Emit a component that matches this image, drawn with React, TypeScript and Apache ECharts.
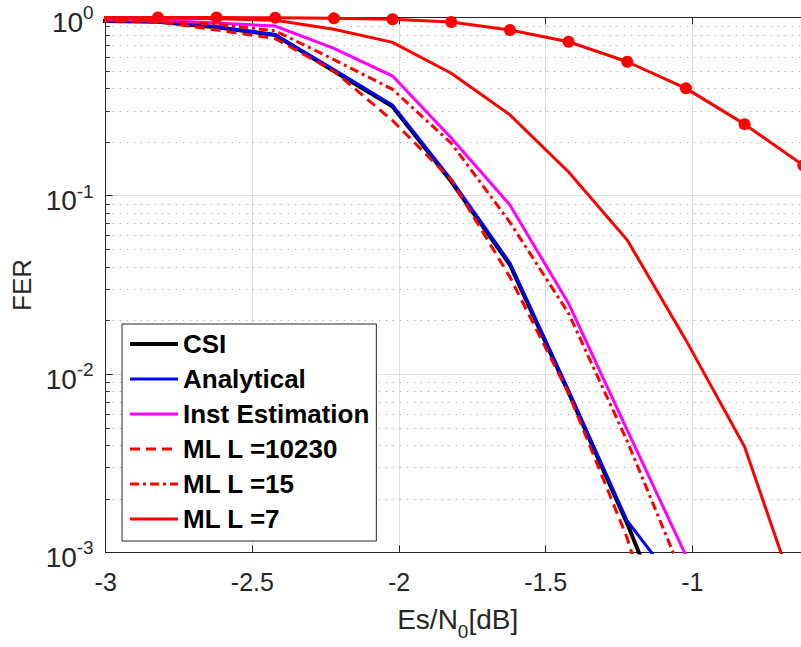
import React, { useEffect, useRef } from "react";
import * as echarts from "echarts";

// Es/N0 sample points (dB)
const esN0 = [-3.022, -2.822, -2.622, -2.422, -2.222, -2.022, -1.822, -1.622, -1.422, -1.222, -1.022, -0.822, -0.622];

// FER values per curve
const ferCSI = [0.955, 0.945, 0.88, 0.797, 0.5, 0.316, 0.12, 0.041, 0.0079, 0.00145, 0.00022];
const ferAnalytical = [0.957, 0.947, 0.885, 0.8, 0.51, 0.322, 0.123, 0.042, 0.0081, 0.0015, 0.00056];
const ferInst = [0.975, 0.965, 0.93, 0.895, 0.671, 0.469, 0.211, 0.0887, 0.0249, 0.00485, 0.00096];
const ferML10230 = [0.955, 0.946, 0.85, 0.76, 0.5, 0.264, 0.123, 0.035, 0.0078, 0.0012, 0.0001];
const ferML15 = [0.97, 0.958, 0.915, 0.84, 0.58, 0.395, 0.197, 0.071, 0.0219, 0.0042, 0.00067];
const ferML7 = [0.995, 0.992, 0.982, 0.965, 0.858, 0.725, 0.486, 0.284, 0.136, 0.0564, 0.0155, 0.00391, 0.00043];
const ferMLMarked = [0.999, 0.999, 0.998, 0.995, 0.988, 0.976, 0.942, 0.85, 0.73, 0.564, 0.4, 0.252, 0.148];

const legendNames = ["CSI", "Analytical", "Inst Estimation", "ML L =10230", "ML L =15", "ML L =7"];

// log-axis minor grid positions
const decades = [0.001, 0.01, 0.1];
const minorMultipliers = [2, 3, 4, 5, 6, 7, 8, 9];

const xMin = -3;
const xMax = -0.6;

const FONT = '"Liberation Sans", Arial, Helvetica, sans-serif';
const AX = "#262626";

function pairs(vals: number[]) {
  return vals.map((v, i) => [esN0[i], v]);
}

export default function App() {
  const ref = useRef<HTMLDivElement>(null);
  useEffect(() => {
    if (!ref.current) return;
    const chart = echarts.init(ref.current, undefined, { renderer: "svg" });
    const minorVals: number[] = [];
    decades.forEach((d) => minorMultipliers.forEach((m) => minorVals.push(+(d * m).toPrecision(3))));

    const lineSeries = (name: string, vals: number[], color: string, width: number, dash?: any) => ({
      name,
      type: "line",
      data: pairs(vals),
      symbol: "none",
      showSymbol: false,
      clip: true,
      z: 3,
      lineStyle: { color, width, type: dash || "solid", cap: "butt", join: "miter" },
      itemStyle: { color },
    });

    const option: any = {
      animation: false,
      backgroundColor: "#fff",
      textStyle: { fontFamily: FONT },
      grid: { left: 105.7, top: 17.4, width: 704, height: 535, containLabel: false, outerBoundsMode: "none" },
      legend: {
        data: legendNames,
        orient: "vertical",
        left: 122,
        top: 324,
        itemWidth: 48,
        itemHeight: 14,
        itemGap: 9,
        padding: [7, 7, 9, 6],
        backgroundColor: "#fff",
        borderColor: AX,
        borderWidth: 1,
        borderRadius: 0,
        selectedMode: false,
        itemStyle: { opacity: 0 },
        lineStyle: { width: "inherit" },
        textStyle: { fontSize: 26, fontWeight: "bold", color: "#000", lineHeight: 26, fontFamily: FONT },
      },
      xAxis: [
        {
          type: "value",
          min: xMin,
          max: xMax,
          interval: 0.5,
          position: "bottom",
          name: "{b|Es/N}{s|0}{b|[dB]}",
          nameLocation: "middle",
          nameGap: 52,
          nameTextStyle: {
            rich: {
              b: { fontSize: 28, color: AX, fontFamily: FONT, height: 30, lineHeight: 37, padding: [0, 0, 7, 0], verticalAlign: "top" },
              s: { fontSize: 19, color: AX, fontFamily: FONT, height: 19, lineHeight: 19, verticalAlign: "bottom" },
            },
          },
          axisLine: { show: true, onZero: false, lineStyle: { color: AX, width: 1 } },
          axisTick: { show: true, inside: true, length: 7, lineStyle: { color: AX, width: 1 } },
          axisLabel: { color: AX, fontSize: 25, margin: 17, showMaxLabel: false, fontFamily: FONT, formatter: (v: number) => String(v) },
          splitLine: { show: true, lineStyle: { color: "#dfdfdf", width: 1 } },
        },
        {
          type: "value",
          min: xMin,
          max: xMax,
          interval: 0.5,
          position: "top",
          axisLine: { show: true, onZero: false, lineStyle: { color: AX, width: 1 } },
          axisTick: { show: true, inside: true, length: 7, lineStyle: { color: AX, width: 1 } },
          axisLabel: { show: false },
          splitLine: { show: false },
        },
      ],
      yAxis: {
        type: "log",
        logBase: 10,
        min: 0.001,
        max: 1,
        name: "FER",
        nameLocation: "middle",
        nameGap: 68,
        nameTextStyle: { fontSize: 26, color: AX, fontFamily: FONT },
        axisLine: { show: true, onZero: false, lineStyle: { color: AX, width: 1 } },
        axisTick: { show: true, inside: true, length: 7, lineStyle: { color: AX, width: 1 } },
        axisLabel: {
          margin: 12,
          formatter: (v: number) => `{b|10}{e|${Math.round(Math.log10(v))}}`,
          rich: {
            b: { fontSize: 28, color: AX, fontFamily: FONT, height: 28, lineHeight: 38, padding: [10, 0, 0, 0], verticalAlign: "bottom" },
            e: { fontSize: 19, color: AX, fontFamily: FONT, height: 19, lineHeight: 24, padding: [5, 0, 0, 0], verticalAlign: "top" },
          },
        },
        splitLine: { show: true, lineStyle: { color: "#dfdfdf", width: 1 } },
      },
      series: [
        {
          name: "minor-grid",
          type: "custom",
          silent: true,
          z: 1,
          clip: false,
          data: minorVals.map((v) => [xMin, v]),
          renderItem: (params: any, api: any) => {
            const p = api.coord([xMin, api.value(1)]);
            const cs = params.coordSys;
            const y = Math.round(p[1]) + 0.5;
            return {
              type: "group",
              children: [
                {
                  type: "line",
                  shape: { x1: cs.x, y1: y, x2: cs.x + cs.width, y2: y },
                  style: { stroke: "#b4b4b4", lineWidth: 1, lineDash: [1.5, 5.5] },
                },
                {
                  type: "line",
                  shape: { x1: cs.x, y1: y, x2: cs.x + 4, y2: y },
                  style: { stroke: AX, lineWidth: 1 },
                },
              ],
            };
          },
        },
        lineSeries("CSI", ferCSI, "#000000", 4),
        lineSeries("Analytical", ferAnalytical, "#0000ff", 3),
        lineSeries("Inst Estimation", ferInst, "#ff00ff", 3),
        lineSeries("ML L =10230", ferML10230, "#ff0000", 3, [10, 6]),
        lineSeries("ML L =15", ferML15, "#ff0000", 3, [9, 4, 3, 4]),
        lineSeries("ML L =7", ferML7, "#ff0000", 3),
        {
          name: "ML markers",
          type: "line",
          data: pairs(ferMLMarked),
          symbol: "circle",
          symbolSize: 12,
          showSymbol: true,
          clip: true,
          z: 3,
          lineStyle: { color: "#ff0000", width: 3 },
          itemStyle: { color: "#ff0000", borderWidth: 0 },
        },
      ],
    };
    chart.setOption(option);
    return () => chart.dispose();
  }, []);

  return (
    <div style={{ position: "fixed", left: 0, top: 0, width: 801, height: 647, overflow: "hidden", background: "#fff" }}>
      <div ref={ref} style={{ width: 820, height: 647 }} />
    </div>
  );
}
